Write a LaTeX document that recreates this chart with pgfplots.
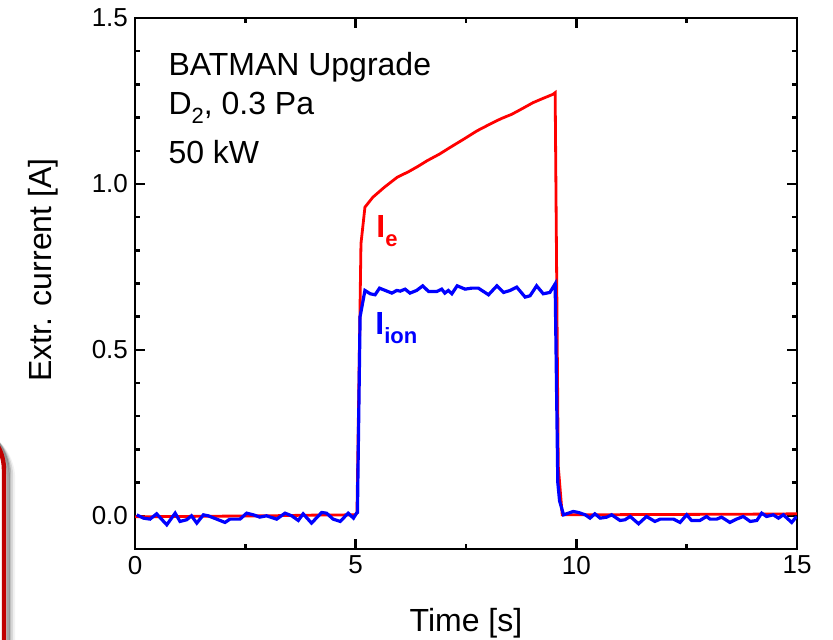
\documentclass[border=0pt]{standalone}
\usepackage{pgfplots}
\pgfplotsset{compat=1.18}
\usepackage{fontspec}
\setmainfont{Liberation Sans}
\definecolor{framered}{RGB}{192,0,0}
\newcommand{\low}[1]{\raisebox{-4.5pt}{\fontsize{11}{13}\selectfont #1}}

\begin{document}
\begin{tikzpicture}
\useasboundingbox (0,0) rectangle (416.5pt,320pt);
% piece of a slide frame at the left edge
\begin{scope}
\clip (0,0) rectangle (416.5pt,320pt);
\foreach \o/\a in {4.5pt/0.05,3.5pt/0.1,2.5pt/0.16,1.8pt/0.22}{
  \draw[line width=2.2pt, black, opacity=\a, rounded corners=25pt, xshift=\o, yshift=-\o]
    (-200pt,-50pt) rectangle (2pt,110pt);
}
\draw[line width=2.2pt, framered, rounded corners=25pt] (-200pt,-50pt) rectangle (2pt,110pt);
\end{scope}

\begin{axis}[
  at={(67.5pt,45.5pt)}, anchor=south west,
  scale only axis,
  width=331pt, height=265.5pt,
  xmin=0, xmax=15, ymin=-0.1, ymax=1.5,
  xtick={0,5,10,15}, ytick={0,0.5,1,1.5},
  minor x tick num=1, minor y tick num=4,
  major tick length=5pt, minor tick length=2.5pt,
  axis line style={line width=1.2pt},
  tick style={line width=1.2pt, black},
  tick label style={font=\fontsize{13}{15}\selectfont, /pgf/number format/assume math mode=true},
  yticklabel style={/pgf/number format/.cd, fixed, fixed zerofill, precision=1},
  xlabel={Time [s]},
  ylabel={Extr. current [A]},
  label style={font=\fontsize{16}{19}\selectfont},
  xlabel style={at={(axis description cs:0.5,-0.156)}, anchor=base},
  ylabel style={at={(axis description cs:-0.1254,0.525)}, anchor=base},
]
% electron current
\addplot[red, line width=1.4pt] coordinates {
  (0,-0.003) (1,-0.002) (2,-0.001) (3,0.0) (4,0.002) (5.0,0.003)
  (5.03,0.01) (5.12,0.82) (5.21,0.93) (5.39,0.96) (5.65,0.99) (5.94,1.02)
  (6.2,1.037) (6.4,1.052) (6.62,1.07) (6.9,1.09) (7.14,1.11) (7.45,1.135)
  (7.75,1.16) (8.04,1.18) (8.3,1.197) (8.54,1.21) (8.79,1.228)
  (9.02,1.245) (9.25,1.258) (9.47,1.27) (9.52,1.275)
  (9.59,0.15) (9.68,0.003) (10,0.003) (12,0.004) (14,0.005) (15,0.006)
};
% ion current
\addplot[blue, line width=1.6pt] coordinates {
  (0.04,0.003) (0.19,-0.007) (0.34,-0.010) (0.49,0.006) (0.60,-0.010)
  (0.72,-0.027) (0.91,0.008) (1.02,-0.017) (1.17,-0.012) (1.28,0.000)
  (1.40,-0.022) (1.55,0.003) (1.66,0.000) (1.85,-0.010) (2.04,-0.020)
  (2.15,-0.010) (2.38,-0.010) (2.53,0.008) (2.68,0.003) (2.83,-0.004)
  (2.98,0.000) (3.21,-0.010) (3.40,0.008) (3.55,0.000) (3.70,-0.014)
  (3.81,0.006) (4.00,-0.022) (4.23,0.010) (4.34,0.008) (4.49,-0.010)
  (4.65,-0.017) (4.83,0.008) (4.95,-0.007) (5.02,0.008)
  (5.04,0.01) (5.10,0.60)
  (5.21,0.679) (5.33,0.669) (5.44,0.666) (5.54,0.686) (5.67,0.679)
  (5.82,0.671) (5.93,0.679) (6.01,0.677) (6.12,0.683) (6.23,0.671)
  (6.38,0.679) (6.52,0.693) (6.65,0.676) (6.84,0.676) (6.95,0.683)
  (7.02,0.671) (7.10,0.679) (7.18,0.669) (7.30,0.693) (7.48,0.683)
  (7.63,0.686) (7.78,0.686) (8.01,0.666) (8.20,0.693) (8.35,0.673)
  (8.50,0.679) (8.65,0.689) (8.84,0.659) (8.95,0.663) (9.10,0.693)
  (9.25,0.669) (9.40,0.673) (9.52,0.699)
  (9.58,0.10) (9.62,0.045) (9.71,0.003)
  (9.93,0.013) (10.05,0.010) (10.20,0.003) (10.31,-0.007) (10.42,0.006)
  (10.54,-0.007) (10.69,-0.004) (10.80,0.003) (10.99,-0.014) (11.10,-0.012)
  (11.22,-0.002) (11.41,-0.024) (11.59,-0.002) (11.78,-0.017) (11.90,-0.010)
  (12.20,-0.010) (12.35,-0.020) (12.50,0.003) (12.61,-0.014) (12.80,-0.014)
  (12.95,-0.002) (13.03,-0.010) (13.18,-0.010) (13.29,-0.004) (13.48,-0.020)
  (13.63,-0.010) (13.78,-0.002) (13.94,-0.017) (14.09,-0.014) (14.20,0.008)
  (14.31,-0.002) (14.46,0.003) (14.58,-0.007) (14.69,0.003) (14.88,-0.020)
  (14.99,-0.002)
};
\node[anchor=base west, inner sep=0pt, font=\fontsize{16}{19}\selectfont] at (axis cs:0.75,1.328) {BATMAN Upgrade};
\node[anchor=base west, inner sep=0pt, font=\fontsize{16}{19}\selectfont] at (axis cs:0.75,1.208) {D\low{2}, 0.3 Pa};
\node[anchor=base west, inner sep=0pt, font=\fontsize{16}{19}\selectfont] at (axis cs:0.75,1.063) {50 kW};
\node[anchor=base west, red, font=\fontsize{16}{19}\selectfont\bfseries, inner sep=0pt] at (axis cs:5.46,0.84) {I\low{\bfseries e}};
\node[anchor=base west, blue, font=\fontsize{16}{19}\selectfont\bfseries, inner sep=0pt] at (axis cs:5.44,0.545) {I\low{\bfseries ion}};
\end{axis}
\end{tikzpicture}
\end{document}
